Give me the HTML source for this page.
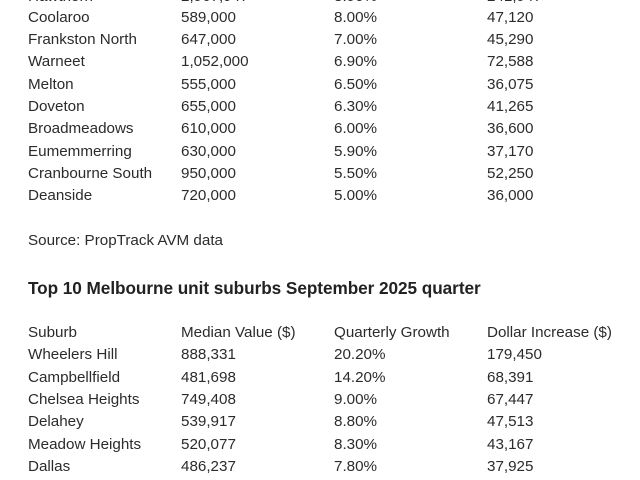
<!DOCTYPE html>
<html><head><meta charset="utf-8"><style>
html,body{margin:0;padding:0;background:#fff;width:640px;height:480px;overflow:hidden}
body{font-family:"Liberation Sans",sans-serif;color:#2b2b2b;font-size:15.2px;position:relative}
.r{position:absolute;left:0;width:640px;height:20px;line-height:20px}
.r span{position:absolute;white-space:nowrap}
.a{left:28px}.b{left:181px}.c{left:334px}.d{left:487px}
.t{position:absolute;left:28px;font-weight:bold;font-size:17.2px;color:#222;line-height:20px;letter-spacing:-0.05px}
</style></head><body>
<div class="r" style="top:-13px"><span class="a">Hawthorn</span><span class="b">2,967,947</span><span class="c">8.90%</span><span class="d">241,947</span></div>
<div class="r" style="top:8px"><span class="a">Coolaroo</span><span class="b">589,000</span><span class="c">8.00%</span><span class="d">47,120</span></div>
<div class="r" style="top:30px"><span class="a">Frankston North</span><span class="b">647,000</span><span class="c">7.00%</span><span class="d">45,290</span></div>
<div class="r" style="top:52px"><span class="a">Warneet</span><span class="b">1,052,000</span><span class="c">6.90%</span><span class="d">72,588</span></div>
<div class="r" style="top:75px"><span class="a">Melton</span><span class="b">555,000</span><span class="c">6.50%</span><span class="d">36,075</span></div>
<div class="r" style="top:97px"><span class="a">Doveton</span><span class="b">655,000</span><span class="c">6.30%</span><span class="d">41,265</span></div>
<div class="r" style="top:119px"><span class="a">Broadmeadows</span><span class="b">610,000</span><span class="c">6.00%</span><span class="d">36,600</span></div>
<div class="r" style="top:142px"><span class="a">Eumemmerring</span><span class="b">630,000</span><span class="c">5.90%</span><span class="d">37,170</span></div>
<div class="r" style="top:164px"><span class="a">Cranbourne South</span><span class="b">950,000</span><span class="c">5.50%</span><span class="d">52,250</span></div>
<div class="r" style="top:186px"><span class="a">Deanside</span><span class="b">720,000</span><span class="c">5.00%</span><span class="d">36,000</span></div>
<div class="r" style="top:231px"><span class="a">Source: PropTrack AVM data</span></div>
<div class="t" style="top:278px">Top 10 Melbourne unit suburbs September 2025 quarter</div>
<div class="r" style="top:323px"><span class="a">Suburb</span><span class="b">Median Value ($)</span><span class="c">Quarterly Growth</span><span class="d">Dollar Increase ($)</span></div>
<div class="r" style="top:345px"><span class="a">Wheelers Hill</span><span class="b">888,331</span><span class="c">20.20%</span><span class="d">179,450</span></div>
<div class="r" style="top:368px"><span class="a">Campbellfield</span><span class="b">481,698</span><span class="c">14.20%</span><span class="d">68,391</span></div>
<div class="r" style="top:390px"><span class="a">Chelsea Heights</span><span class="b">749,408</span><span class="c">9.00%</span><span class="d">67,447</span></div>
<div class="r" style="top:412px"><span class="a">Delahey</span><span class="b">539,917</span><span class="c">8.80%</span><span class="d">47,513</span></div>
<div class="r" style="top:435px"><span class="a">Meadow Heights</span><span class="b">520,077</span><span class="c">8.30%</span><span class="d">43,167</span></div>
<div class="r" style="top:457px"><span class="a">Dallas</span><span class="b">486,237</span><span class="c">7.80%</span><span class="d">37,925</span></div>
</body></html>
